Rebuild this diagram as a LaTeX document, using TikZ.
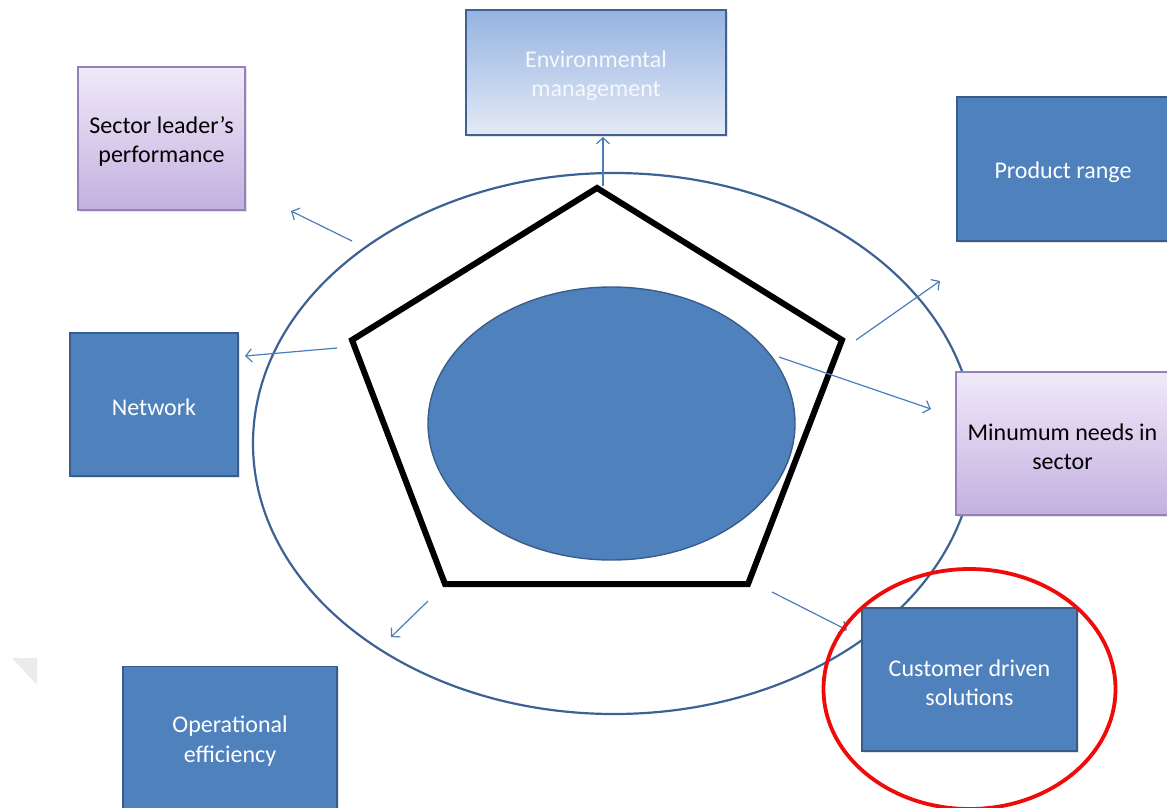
\documentclass[tikz,border=0pt]{standalone}
\usepackage{fontspec}
\setmainfont{Carlito}
\usetikzlibrary{arrows.meta,shadows,shapes.geometric}
\definecolor{boxblue}{RGB}{79,129,189}
\definecolor{boxedge}{RGB}{56,93,138}
\definecolor{ringblue}{RGB}{60,98,148}
\definecolor{arrowblue}{RGB}{74,126,187}
\definecolor{envtop}{RGB}{149,179,225}
\definecolor{envbot}{RGB}{228,234,246}
\definecolor{envedge}{RGB}{62,97,150}
\definecolor{envtext}{RGB}{246,248,252}
\definecolor{lavtop}{RGB}{239,234,248}
\definecolor{lavbot}{RGB}{196,176,224}
\definecolor{lavedge}{RGB}{150,128,186}
\definecolor{ringred}{RGB}{240,10,10}
% extra room above the first text line, so the label sits a little low in its box
\newcommand\boxlift{\rule{0pt}{\dimexpr\fontcharht\font`l+6pt\relax}}
\tikzset{
  box/.style={rectangle, draw, line width=1.6pt, align=center,
    font=\fontsize{24}{29.5}\selectfont, inner sep=0pt,
    drop shadow={opacity=0.22, shadow xshift=2pt, shadow yshift=-2pt}},
  bluebox/.style={box, fill=boxblue, draw=boxedge, text=white},
  envbox/.style={box, draw=envedge, top color=envtop, bottom color=envbot, text=envtext},
  lavbox/.style={box, draw=lavedge, top color=lavtop, bottom color=lavbot, text=black},
  link/.style={draw=arrowblue, line width=1.2pt,
    -{Straight Barb[length=6pt,width=13pt,line width=1.2pt]}},
}
\begin{document}
\begin{tikzpicture}[x=1pt,y=-1pt]
\useasboundingbox (0,0) rectangle (1167,807);
\clip (0,0) rectangle (1167,807);

% faint corner mark at the left edge
\fill[black!8] (12,658) -- (37,658) -- (37,685) -- cycle;

% outer ring
\node[ellipse, draw=ringblue, line width=2.2pt, minimum width=722pt, minimum height=541pt, inner sep=0pt] (ring) at (614,443.5) {};

% pentagon frame
\draw[line width=6pt, line join=miter] (597,188) -- (842,340) -- (748,584) -- (445,584) -- (352,340) -- cycle;

% central core
\node[ellipse, fill=boxblue, draw=boxedge, line width=1.4pt, minimum width=367pt, minimum height=273pt, inner sep=0pt] (core) at (611.5,423.5) {};

% arrow end points
\coordinate (a1s) at (603,186);  \coordinate (a1e) at (603,137);
\coordinate (a2s) at (352,241);  \coordinate (a2e) at (291,211);
\coordinate (a3s) at (337,348);  \coordinate (a3e) at (245,356);
\coordinate (a4s) at (856,340);  \coordinate (a4e) at (940,281);
\coordinate (a5s) at (779,357);  \coordinate (a5e) at (931,409);
\coordinate (a6s) at (428,601);  \coordinate (a6e) at (391,637);
\coordinate (a7s) at (772,592);  \coordinate (a7e) at (847,630);

\draw[link] (a1s) -- (a1e);
\draw[link] (a2s) -- (a2e);
\draw[link] (a3s) -- (a3e);
\draw[link] (a4s) -- (a4e);
\draw[link] (a5s) -- (a5e);
\draw[link] (a6s) -- (a6e);
\draw[link] (a7s) -- (a7e);

% surrounding factors
\node[envbox, minimum width=260pt, minimum height=125pt] (env) at (596,72.5) {\boxlift Environmental\\management};
\node[lavbox, minimum width=167pt, minimum height=143pt] (leader) at (161.5,138.5) {\boxlift Sector leader’s\\performance};
\node[bluebox, minimum width=212pt, minimum height=144pt] (product) at (1063,169) {\boxlift Product range};
\node[bluebox, minimum width=168pt, minimum height=143pt] (network) at (154,404.5) {\boxlift Network};
\node[lavbox, minimum width=213pt, minimum height=143pt] (needs) at (1062.5,443.5) {\boxlift Minumum needs in\\sector};
\node[bluebox, minimum width=215pt, minimum height=143pt] (customer) at (969.5,679.5) {\boxlift Customer driven\\solutions};
\node[bluebox, minimum width=214pt, minimum height=143pt] (operational) at (230,738) {\boxlift Operational\\efficiency};

% highlight ring
\node[ellipse, draw=ringred, line width=3.8pt, minimum width=292pt, minimum height=240pt, inner sep=0pt] (focus) at (969.5,689) {};
\end{tikzpicture}
\end{document}
